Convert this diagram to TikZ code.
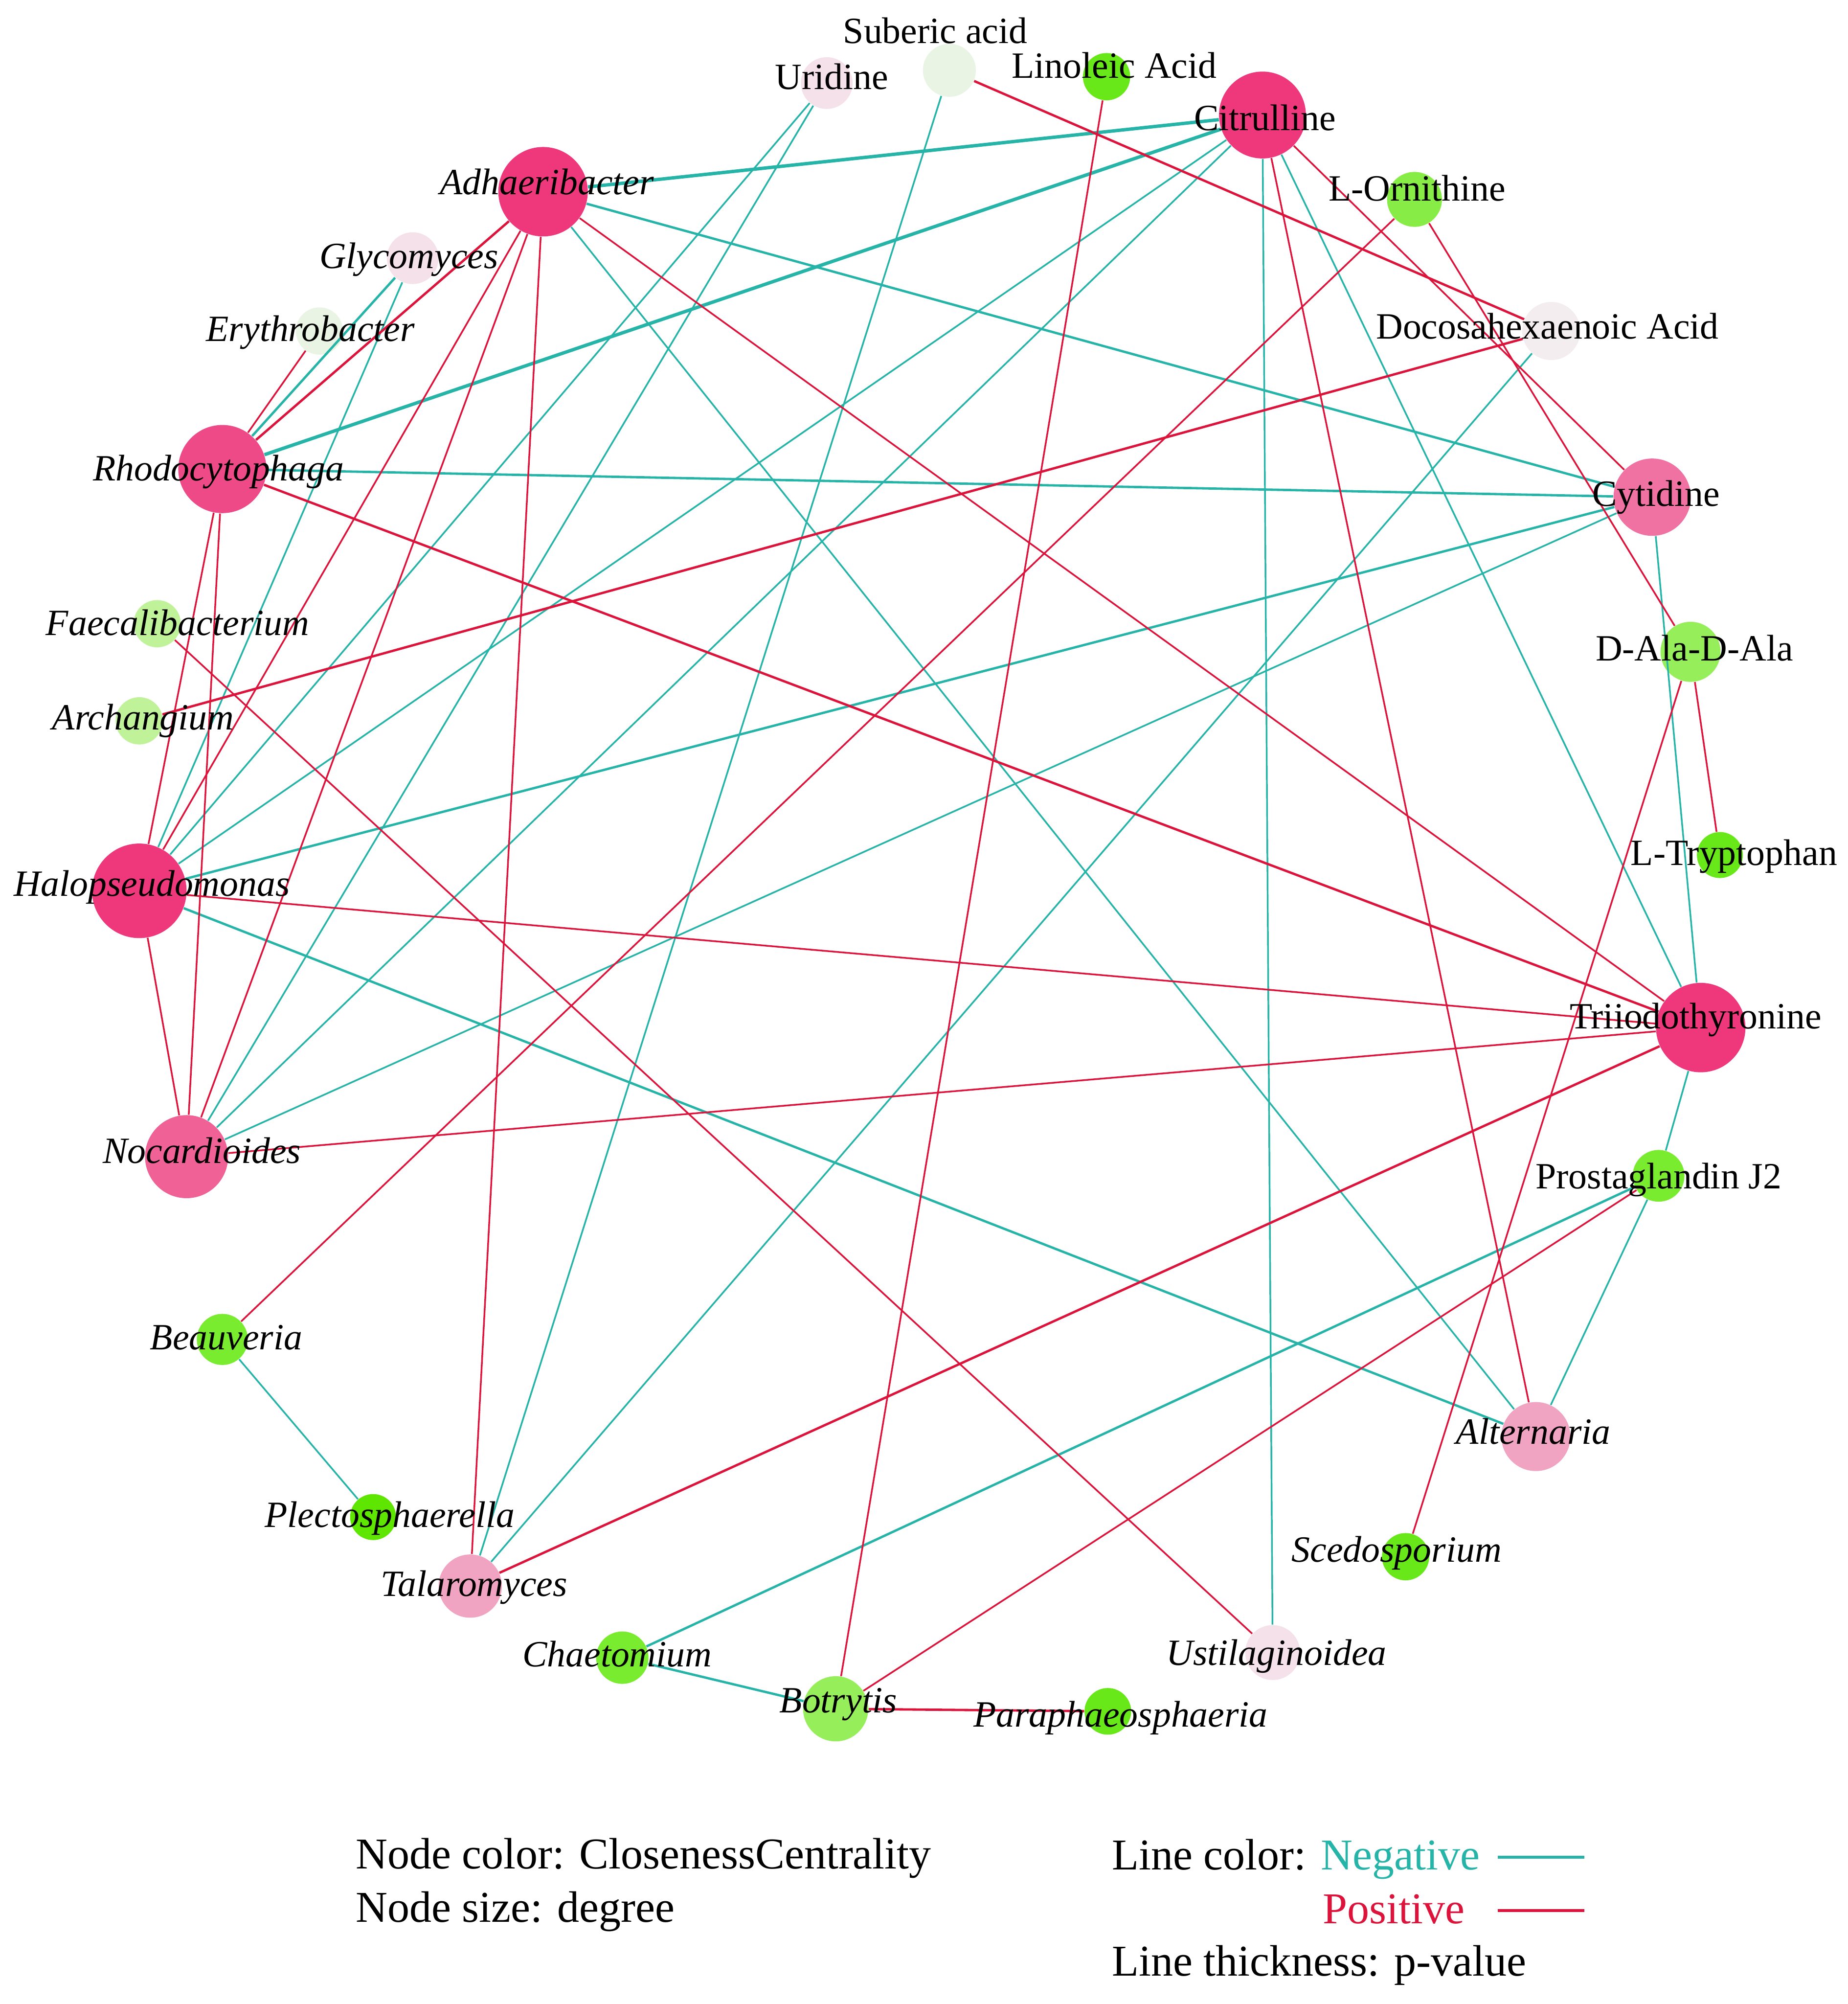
\documentclass[tikz,border=0pt]{standalone}
\usepackage{fontspec}
\setmainfont{Liberation Serif}
\definecolor{negc}{HTML}{26B3A8}
\definecolor{posc}{HTML}{DC143C}
\definecolor{pkA}{HTML}{EF387B}
\definecolor{pkB}{HTML}{EE4A88}
\definecolor{pkC}{HTML}{F06296}
\definecolor{pkD}{HTML}{F072A2}
\definecolor{pkE}{HTML}{F0A4C1}
\definecolor{pkF}{HTML}{F5E1E9}
\definecolor{pkG}{HTML}{F3EDEF}
\definecolor{grA}{HTML}{EAF4E4}
\definecolor{grB}{HTML}{C0F29A}
\definecolor{grC}{HTML}{95EE5A}
\definecolor{grD}{HTML}{88EC46}
\definecolor{grE}{HTML}{7AEC30}
\definecolor{grF}{HTML}{68E819}
\definecolor{grG}{HTML}{5EE600}

\begin{document}
\begin{tikzpicture}[
    x=0.02cm, y=-0.02cm,
    ball/.style={circle, inner sep=0pt, minimum size=#1},
    lbl/.style={anchor=base, inner sep=0pt, font=\fontsize{16.5}{19}\selectfont},
    bug/.style={anchor=base, inner sep=0pt, font=\fontsize{16.5}{19}\selectfont\itshape},
    leg/.style={anchor=base west, inner sep=0pt, font=\fontsize{19.6}{23}\selectfont},
    negline/.style={draw=negc, line width=0.75pt},
    posline/.style={draw=posc, line width=0.75pt},
    medline/.style={line width=1.05pt},
    heavyline/.style={line width=1.5pt}
  ]
    \useasboundingbox (0,0) rectangle (1446,1568);

    \node[ball=0.83cm, fill=grA] (suba) at (743,55) {};
    \node[ball=0.81cm, fill=pkF] (uri) at (647,65) {};
    \node[ball=0.74cm, fill=grF] (lin) at (866,60) {};
    \node[ball=1.36cm, fill=pkA] (cit) at (988,90) {};
    \node[ball=1.40cm, fill=pkA] (adh) at (425,150) {};
    \node[ball=0.86cm, fill=grD] (orn) at (1107,156) {};
    \node[ball=0.81cm, fill=pkF] (gly) at (323,202) {};
    \node[ball=0.74cm, fill=grA] (ery) at (250,259) {};
    \node[ball=0.91cm, fill=pkG] (dha) at (1214,259) {};
    \node[ball=1.38cm, fill=pkB] (rho) at (174,367) {};
    \node[ball=1.21cm, fill=pkD] (cyt) at (1293,389) {};
    \node[ball=0.74cm, fill=grB] (fae) at (123,488) {};
    \node[ball=0.94cm, fill=grC] (dal) at (1323,510) {};
    \node[ball=0.74cm, fill=grB] (arc) at (109,564) {};
    \node[ball=0.72cm, fill=grF] (try) at (1346,669) {};
    \node[ball=1.48cm, fill=pkA] (hal) at (109,697) {};
    \node[ball=1.40cm, fill=pkA] (tri) at (1331,804) {};
    \node[ball=1.30cm, fill=pkC] (noc) at (146,905) {};
    \node[ball=0.81cm, fill=grE] (pro) at (1298,920) {};
    \node[ball=0.80cm, fill=grE] (bea) at (174,1048) {};
    \node[ball=1.08cm, fill=pkE] (alt) at (1202,1124) {};
    \node[ball=0.72cm, fill=grG] (ple) at (292,1187) {};
    \node[ball=0.74cm, fill=grF] (sce) at (1100,1218) {};
    \node[ball=0.99cm, fill=pkE] (tal) at (368,1241) {};
    \node[ball=0.82cm, fill=grE] (cha) at (487,1297) {};
    \node[ball=0.86cm, fill=pkF] (ust) at (996,1293) {};
    \node[ball=1.02cm, fill=grC] (bot) at (654,1337) {};
    \node[ball=0.73cm, fill=grF] (par) at (867,1339) {};

    \draw[negline, heavyline] (adh) -- (cit);
    \draw[negline, heavyline] (rho) -- (cit);
    \draw[negline] (cit) -- (hal);
    \draw[negline] (cit) -- (noc);
    \draw[negline] (cit) -- (ust);
    \draw[negline] (cit) -- (tri);
    \draw[negline] (uri) -- (hal);
    \draw[negline] (uri) -- (noc);
    \draw[negline] (suba) -- (tal);
    \draw[negline] (dha) -- (tal);
    \draw[negline, medline] (adh) -- (cyt);
    \draw[negline, medline] (rho) -- (cyt);
    \draw[negline, medline] (cyt) -- (hal);
    \draw[negline] (cyt) -- (noc);
    \draw[negline] (cyt) -- (tri);
    \draw[negline] (adh) -- (alt);
    \draw[negline, medline] (hal) -- (alt);
    \draw[negline] (pro) -- (alt);
    \draw[negline] (tri) -- (pro);
    \draw[negline, medline] (pro) -- (cha);
    \draw[negline, medline] (cha) -- (bot);
    \draw[negline] (bea) -- (ple);
    \draw[negline, medline] (gly) -- (rho);
    \draw[negline] (gly) -- (hal);

    \draw[posline] (cit) -- (cyt);
    \draw[posline] (cit) -- (alt);
    \draw[posline, medline] (suba) -- (dha);
    \draw[posline] (lin) -- (bot);
    \draw[posline] (orn) -- (dal);
    \draw[posline] (orn) -- (bea);
    \draw[posline, medline] (dha) -- (arc);
    \draw[posline] (dal) -- (try);
    \draw[posline] (dal) -- (sce);
    \draw[posline] (adh) -- (tri);
    \draw[posline, medline] (rho) -- (tri);
    \draw[posline] (hal) -- (tri);
    \draw[posline] (noc) -- (tri);
    \draw[posline, medline] (tal) -- (tri);
    \draw[posline] (pro) -- (bot);
    \draw[posline] (fae) -- (ust);
    \draw[posline] (adh) -- (tal);
    \draw[posline] (adh) -- (noc);
    \draw[posline] (adh) -- (hal);
    \draw[posline, medline] (adh) -- (rho);
    \draw[posline] (ery) -- (rho);
    \draw[posline] (rho) -- (hal);
    \draw[posline] (rho) -- (noc);
    \draw[posline] (hal) -- (noc);
    \draw[posline, medline] (bot) -- (par);

    \node[lbl] (subat) at (732,34) {Suberic acid};
    \node[lbl] (urit) at (651,70) {Uridine};
    \node[lbl] (lint) at (872,61) {Linoleic Acid};
    \node[lbl] (citt) at (990,102) {Citrulline};
    \node[bug] (adht) at (428,152) {Adhaeribacter};
    \node[lbl] (ornt) at (1109,157) {L-Ornithine};
    \node[bug] (glyt) at (320,210) {Glycomyces};
    \node[bug] (eryt) at (243,267) {Erythrobacter};
    \node[lbl] (dhat) at (1211,265) {Docosahexaenoic Acid};
    \node[bug] (rhot) at (171,376) {Rhodocytophaga};
    \node[lbl] (cytt) at (1296,396) {Cytidine};
    \node[bug] (faet) at (139,497) {Faecalibacterium};
    \node[lbl] (dalt) at (1326,517) {D-Ala-D-Ala};
    \node[bug] (arct) at (112,571) {Archangium};
    \node[lbl] (tryt) at (1357,677) {L-Tryptophan};
    \node[bug] (halt) at (119,701) {Halopseudomonas};
    \node[lbl] (trit) at (1327,805) {Triiodothyronine};
    \node[bug] (noct) at (158,910) {Nocardioides};
    \node[lbl] (prot) at (1298,930) {Prostaglandin J2};
    \node[bug] (beat) at (177,1056) {Beauveria};
    \node[bug] (altt) at (1200,1130) {Alternaria};
    \node[bug] (plet) at (305,1195) {Plectosphaerella};
    \node[bug] (scet) at (1093,1222) {Scedosporium};
    \node[bug] (talt) at (371,1249) {Talaromyces};
    \node[bug] (chat) at (483,1304) {Chaetomium};
    \node[bug] (ustt) at (999,1303) {Ustilaginoidea};
    \node[bug] (bott) at (656,1340) {Botrytis};
    \node[bug] (part) at (877,1351) {Paraphaeosphaeria};

    \node[leg] (ncol) at (278,1462) {Node color: ClosenessCentrality};
    \node[leg] (nsiz) at (278,1504) {Node size: degree};
    \node[leg] (lcol) at (870,1463) {Line color: \textcolor{negc}{Negative}};
    \node[leg, text=posc] (lpos) at (1035,1505) {Positive};
    \node[leg] (lthk) at (870,1546) {Line thickness: p-value};
    \coordinate (negs) at (1172,1453);
    \coordinate (nege) at (1240,1453);
    \coordinate (poss) at (1172,1495);
    \coordinate (pose) at (1240,1495);
    \draw[negline, line width=1.3pt] (negs) -- (nege);
    \draw[posline, line width=1.3pt] (poss) -- (pose);
  \end{tikzpicture}
\end{document}
